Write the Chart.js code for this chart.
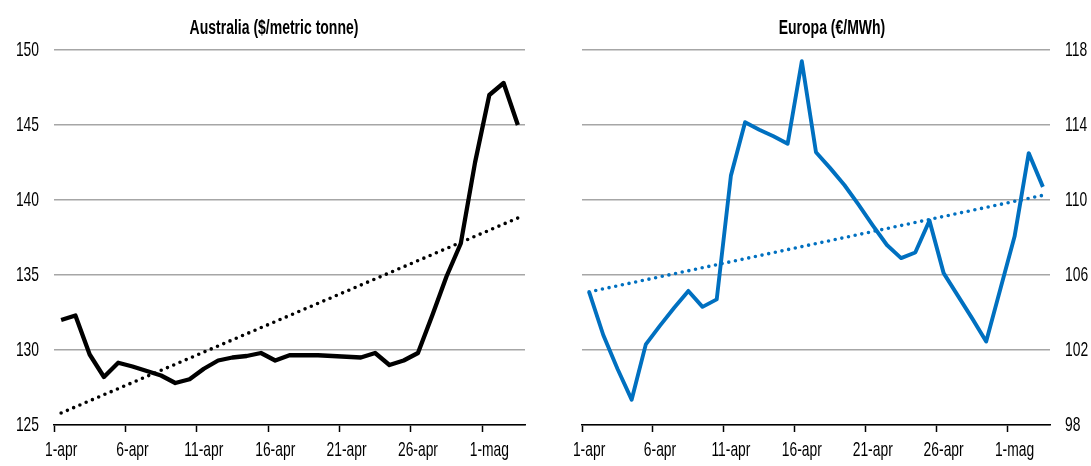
<!DOCTYPE html>
<html>
<head>
<meta charset="utf-8">
<script src="https://cdn.jsdelivr.net/npm/chart.js@4.4.1/dist/chart.umd.min.js"></script>
<style>
  html, body { margin: 0; padding: 0; background: #ffffff; }
  #wrap { position: relative; width: 1091px; height: 466px; overflow: hidden; }
  #cLeft { position: absolute; left: 0; top: 0; }
  #cRight { position: absolute; left: 545px; top: 0; }
  .ttl {
    position: absolute; top: 15px; width: 320px; height: 24px; line-height: 24px;
    text-align: center; font-family: 'Liberation Sans', Arial, sans-serif;
    font-weight: bold; font-size: 20px; color: #000;
    transform: scaleX(0.7); transform-origin: 50% 50%; white-space: nowrap;
  }
</style>
</head>
<body>
<div id="wrap">
  <canvas id="cLeft" width="545" height="466"></canvas>
  <canvas id="cRight" width="546" height="466"></canvas>
  <div class="ttl" id="tLeft" style="left:114px;"></div>
  <div class="ttl" id="tRight" style="left:672px;"></div>
</div>
<script>
// ---- Data ----
const dates = ['1-apr','2-apr','3-apr','4-apr','5-apr','6-apr','7-apr','8-apr','9-apr','10-apr',
  '11-apr','12-apr','13-apr','14-apr','15-apr','16-apr','17-apr','18-apr','19-apr','20-apr',
  '21-apr','22-apr','23-apr','24-apr','25-apr','26-apr','27-apr','28-apr','29-apr','30-apr',
  '1-mag','2-mag','3-mag'];

const ausTitle = 'Australia ($/metric tonne)';
const ausPrice = [132.0, 132.3, 129.7, 128.2, 129.15, 128.9, 128.6, 128.3, 127.8, 128.05,
  128.75, 129.3, 129.5, 129.6, 129.8, 129.3, 129.65, 129.65, 129.65, 129.6,
  129.55, 129.5, 129.8, 129.0, 129.3, 129.8, 132.3, 134.9, 137.1, 142.5,
  147.0, 147.8, 145.0];
const ausTrend = [125.8, 138.8];          // dotted trend line: first day, last day
const ausTicks = [125, 130, 135, 140, 145, 150];

const euTitle = 'Europa (€/MWh)';
const euPrice = [105.1, 102.8, 101.0, 99.35, 102.3, 103.3, 104.25, 105.15, 104.3, 104.7,
  111.3, 114.15, 113.75, 113.4, 113.0, 117.4, 112.55, 111.7, 110.8, 109.75,
  108.65, 107.6, 106.9, 107.2, 108.9, 106.1, 104.9, 103.7, 102.45, 105.25,
  108.05, 112.5, 110.7];
const euTrend = [105.1, 110.25];
const euTicks = [98, 102, 106, 110, 114, 118];

const labelEvery = 5;

// ---- Style ----
const FONT = "'Liberation Sans', Arial, sans-serif";
const SQUEEZE = 0.66;   // condensed look of the reference text
const BLUE = '#0070C0';

document.getElementById('tLeft').textContent = ausTitle;
document.getElementById('tRight').textContent = euTitle;

function narrowText(canvas) {
  const ctx = canvas.getContext('2d');
  const orig = ctx.fillText;
  ctx.fillText = function (text, x, y, maxWidth) {
    this.save();
    this.translate(x, y);
    this.scale(SQUEEZE, 1);
    if (maxWidth !== undefined) orig.call(this, text, 0, 0, maxWidth / SQUEEZE);
    else orig.call(this, text, 0, 0);
    this.restore();
  };
  return ctx;
}

function buildChart(canvasId, cfg) {
  const ctx = narrowText(document.getElementById(canvasId));
  const lastLabel = dates[dates.length - 1];
  return new Chart(ctx, {
    type: 'line',
    data: {
      labels: dates,
      datasets: [
        {
          data: cfg.values,
          borderColor: cfg.color,
          borderWidth: cfg.lineWidth,
          pointRadius: 0,
          tension: 0,
          borderJoinStyle: 'round',
          borderCapStyle: 'butt'
        },
        {
          data: [{ x: dates[0], y: cfg.trend[0] }, { x: lastLabel, y: cfg.trend[1] }],
          borderColor: cfg.color,
          borderWidth: 3.6,
          borderDash: [0, 6.8],
          borderCapStyle: 'round',
          pointRadius: 0,
          tension: 0
        }
      ]
    },
    options: {
      responsive: false,
      animation: false,
      devicePixelRatio: 1,
      layout: { padding: cfg.padding },
      plugins: {
        legend: { display: false },
        tooltip: { enabled: false },
        title: { display: false }
      },
      scales: {
        x: {
          type: 'category',
          offset: true,
          grid: {
            offset: true,
            drawOnChartArea: false,
            drawTicks: true,
            tickLength: 7,
            tickWidth: 1.5,
            tickColor: (c) => (c.index % labelEvery === 0 ? '#000' : 'rgba(0,0,0,0)')
          },
          border: { display: true, color: '#000', width: 1.5 },
          ticks: {
            autoSkip: false,
            maxRotation: 0,
            minRotation: 0,
            padding: 6,
            color: '#000',
            font: { family: FONT, size: 21 },
            callback: (v, i) => (i % labelEvery === 0 ? dates[i] : '')
          },
          afterFit: (s) => { s.height = 41; }
        },
        y: {
          position: cfg.yPos,
          min: cfg.ticks[0],
          max: cfg.ticks[cfg.ticks.length - 1],
          afterBuildTicks: (s) => { s.ticks = cfg.ticks.map(v => ({ value: v })); },
          grid: { color: '#a6a6a6', lineWidth: 1.5, drawTicks: false },
          border: { display: false },
          ticks: {
            padding: cfg.yPad,
            color: '#000',
            font: { family: FONT, size: 21 }
          },
          afterFit: (s) => { s.width = cfg.yWidth; }
        }
      }
    }
  });
}

buildChart('cLeft', {
  values: ausPrice, trend: ausTrend, ticks: ausTicks,
  color: '#000', lineWidth: 4.3, yPos: 'left', yWidth: 54, yPad: 15,
  padding: { left: 0, right: 20, top: 50, bottom: 0 }
});

buildChart('cRight', {
  values: euPrice, trend: euTrend, ticks: euTicks,
  color: BLUE, lineWidth: 3.9, yPos: 'right', yWidth: 41, yPad: 15,
  padding: { left: 37, right: 0, top: 50, bottom: 0 }
});
</script>
</body>
</html>
